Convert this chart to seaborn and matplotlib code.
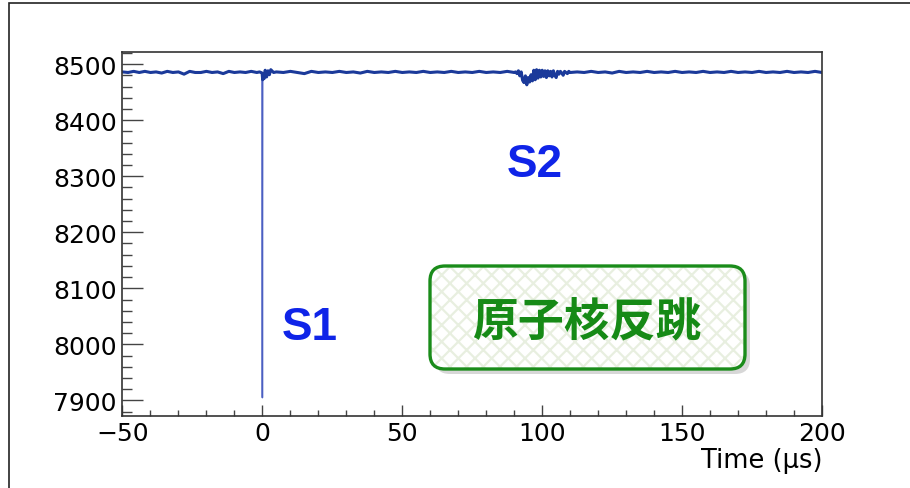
import matplotlib
matplotlib.use("Agg")
import matplotlib.pyplot as plt
from matplotlib.patches import FancyBboxPatch, Rectangle
from matplotlib.ticker import MultipleLocator
import seaborn as sns
import pandas as pd

# ---------------- data ----------------
pre_t = [-50, -48, -46, -44, -42, -40, -38, -36, -34, -32, -30, -28, -26, -24,
         -22, -20, -18, -16, -14, -12, -10, -8, -6, -4, -2, -1]
pre_v = [8486, 8485, 8487, 8485, 8487, 8485, 8486, 8484, 8487, 8485, 8486, 8482,
         8487, 8485, 8485, 8487, 8485, 8486, 8483, 8487, 8485, 8486, 8485, 8487,
         8485, 8486]

s1_t = [-0.5, -0.1, 0.0, 0.1, 0.3, 0.6, 1.0, 1.5, 2.0, 2.5, 3.0, 4.0]
s1_v = [8485, 8484, 7905, 8472, 8480, 8474, 8489, 8477, 8488, 8481, 8490, 8485]

mid_t = [5, 7.5, 10, 12.5, 15, 17.5, 20, 22.5, 25, 27.5, 30, 32.5, 35, 37.5, 40,
         42.5, 45, 47.5, 50, 52.5, 55, 57.5, 60, 62.5, 65, 67.5, 70, 72.5, 75,
         77.5, 80, 82.5, 85, 87.5, 90]
mid_v = [8486, 8485, 8487, 8485, 8483, 8487, 8485, 8486, 8485, 8487, 8485, 8486,
         8484, 8487, 8485, 8486, 8485, 8487, 8485, 8486, 8485, 8487, 8485, 8486,
         8485, 8487, 8485, 8486, 8485, 8487, 8485, 8486, 8485, 8487, 8485]

s2_t = [90.5, 91, 91.5, 92, 92.5, 93, 93.5, 94, 94.5, 95, 95.5, 96, 96.5, 97,
        97.5, 98, 98.5, 99, 99.5, 100, 100.5, 101, 101.5, 102, 102.5, 103, 103.5,
        104, 104.5, 105, 105.5, 106, 106.5, 107, 107.5, 108, 108.5, 109, 109.5, 110]
s2_v = [8486, 8483, 8488, 8479, 8486, 8471, 8467, 8479, 8463, 8476, 8468, 8481,
        8470, 8489, 8472, 8490, 8475, 8489, 8477, 8489, 8478, 8488, 8476, 8488,
        8479, 8487, 8477, 8488, 8480, 8476, 8487, 8482, 8487, 8484, 8480, 8487,
        8485, 8483, 8487, 8485]

post_t = [112.5, 115, 117.5, 120, 122.5, 125, 127.5, 130, 132.5, 135, 137.5, 140,
          142.5, 145, 147.5, 150, 152.5, 155, 157.5, 160, 162.5, 165, 167.5, 170,
          172.5, 175, 177.5, 180, 182.5, 185, 187.5, 190, 192.5, 195, 197.5, 200]
post_v = [8486, 8485, 8487, 8485, 8486, 8484, 8487, 8485, 8486, 8485, 8487, 8485,
          8486, 8485, 8487, 8485, 8486, 8485, 8487, 8485, 8486, 8485, 8487, 8485,
          8486, 8485, 8487, 8485, 8486, 8485, 8487, 8485, 8486, 8485, 8487, 8485]

x_ticks = [-50, 0, 50, 100, 150, 200]
y_ticks = [7900, 8000, 8100, 8200, 8300, 8400, 8500]
x_label = "Time (μs)"
peak_labels = ["S1", "S2"]
peak_label_pos = [(7.0, 8010), (87.5, 8301)]
box_text = "原子核反跳"

# ---------------- style ----------------
sns.set_style("ticks")
plt.rcParams["font.family"] = ["DejaVu Sans"]
plt.rcParams["hatch.linewidth"] = 1.6

df = pd.DataFrame({
    "t": pre_t + s1_t + mid_t + s2_t + post_t,
    "v": pre_v + s1_v + mid_v + s2_v + post_v,
})
df_base = df[df["v"] > 8400]

fig = plt.figure(figsize=(9.10, 4.89), dpi=100)
ax = fig.add_axes([0.1346, 0.148, 0.9033 - 0.1346, 0.891 - 0.148])

# thin full trace (the S1 spike shows as a thin, lighter line)
sns.lineplot(data=df, x="t", y="v", ax=ax, estimator=None, sort=False,
             color="#4b5fc2", linewidth=1.1)
# thicker baseline trace
sns.lineplot(data=df_base, x="t", y="v", ax=ax, estimator=None, sort=False,
             color="#1b3a9a", linewidth=2.2)

ax.set_xlim(-50, 200)
ax.set_ylim(7873, 8521)
ax.set_xticks(x_ticks)
ax.set_yticks(y_ticks)
ax.xaxis.set_minor_locator(MultipleLocator(10))
ax.yaxis.set_minor_locator(MultipleLocator(20))
ax.tick_params(axis="y", which="major", direction="in", length=15,
               width=1.0, color="#444444", pad=4, labelsize=18,
               labelcolor="black")
ax.tick_params(axis="y", which="minor", direction="in", length=7.5,
               width=1.0, color="#444444")
ax.tick_params(axis="x", which="major", direction="in", length=8,
               width=1.0, color="#444444", pad=4, labelsize=18,
               labelcolor="black")
ax.tick_params(axis="x", which="minor", direction="in", length=4,
               width=1.0, color="#444444")
for s in ax.spines.values():
    s.set_color("#333333")
    s.set_linewidth(1.2)
ax.set_xlabel(x_label, fontsize=18.5, loc="right", labelpad=1, color="black")
ax.set_ylabel("")

for lab, (tx, ty) in zip(peak_labels, peak_label_pos):
    ax.text(tx, ty, lab, color="#0f24e8", fontsize=33, ha="left",
            va="baseline", fontweight="bold",
            fontfamily=["Liberation Sans", "DejaVu Sans"])

# ---------------- annotation box (inch coordinates) ----------------
tr = fig.dpi_scale_trans
bx, by, bw, bh = 4.30, 1.19, 3.15, 1.03
shadow = FancyBboxPatch((bx + 0.05, by - 0.05), bw, bh,
                        boxstyle="round,pad=0,rounding_size=0.15",
                        transform=tr, facecolor="#b0b0b0", edgecolor="none",
                        alpha=0.5, zorder=5)
fill = FancyBboxPatch((bx, by), bw, bh,
                      boxstyle="round,pad=0,rounding_size=0.15",
                      transform=tr, facecolor="white", edgecolor="#e8efe0",
                      linewidth=0, hatch="xx", zorder=6)
edge = FancyBboxPatch((bx, by), bw, bh,
                      boxstyle="round,pad=0,rounding_size=0.15",
                      transform=tr, facecolor="none", edgecolor="#1a8c1a",
                      linewidth=2.4, zorder=7)
for p in (shadow, fill, edge):
    fig.add_artist(p)
fig.text(5.87 / 9.10, 1.67 / 4.89, box_text, transform=fig.transFigure,
         ha="center", va="center", color="#168a16", fontsize=33,
         fontweight="bold", zorder=8,
         fontfamily=["Noto Sans CJK JP", "DejaVu Sans"])

# ---------------- outer frame ----------------
frame = Rectangle((0.085, -1.0), 10.0, 4.89 - 0.04 + 1.0, transform=tr,
                  facecolor="none", edgecolor="#222222", linewidth=1.2,
                  clip_on=False)
fig.add_artist(frame)

fig.savefig("out.png", dpi=100)
